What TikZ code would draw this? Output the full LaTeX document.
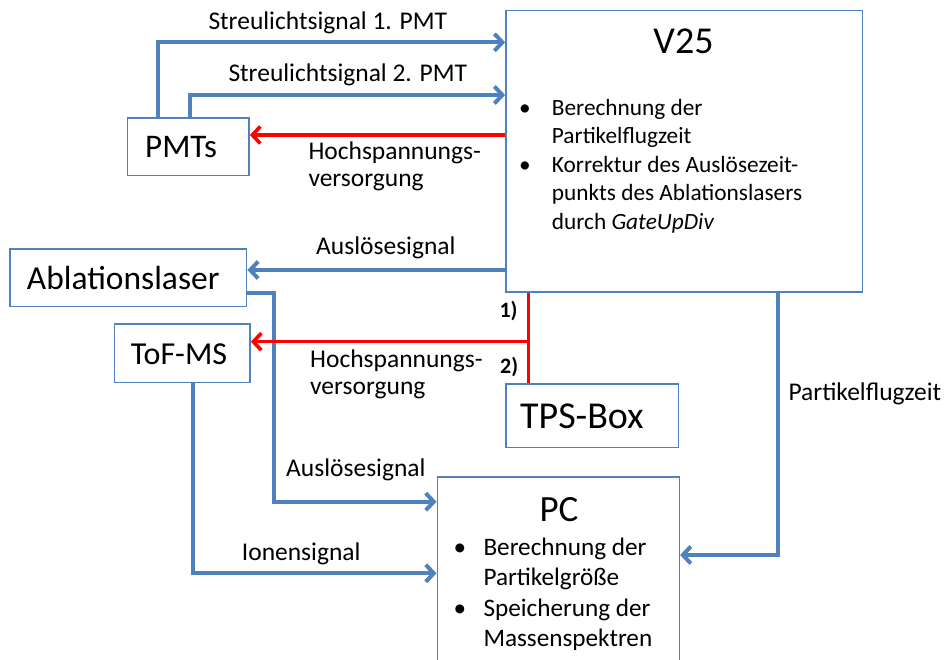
\documentclass[tikz,border=0pt]{standalone}
\usepackage{fontspec}
\setmainfont{Carlito}
\usetikzlibrary{arrows.meta,calc}
\definecolor{obl}{HTML}{4F81BD}
\definecolor{ored}{HTML}{FF0000}
\begin{document}
\begin{tikzpicture}[x=1pt,y=-1pt,
  box/.style={draw=obl,line width=1.6pt,inner sep=0pt,fill=white},
  sig/.style={draw=obl,line width=4pt,-{Straight Barb[length=8pt,width=17pt]}},
  hv/.style={draw=ored,line width=3.6pt,-{Straight Barb[length=8pt,width=17pt]}},
  hvline/.style={draw=ored,line width=3.6pt},
  lbl/.style={anchor=base west,inner sep=0pt,font=\fontsize{25.5}{28}\selectfont},
  num/.style={anchor=base west,inner sep=0pt,font=\fontsize{22}{26}\selectfont\bfseries},
  ttl/.style={anchor=base west,inner sep=0pt,font=\fontsize{33}{38}\selectfont},
  bigttl/.style={anchor=base west,inner sep=0pt,font=\fontsize{38}{44}\selectfont},
  vtxt/.style={anchor=base west,inner sep=0pt,font=\fontsize{23.3}{28}\selectfont},
  ptxt/.style={anchor=base west,inner sep=0pt,font=\fontsize{25.2}{30}\selectfont},
  vbul/.style={anchor=base,inner sep=0pt,font=\fontsize{23.3}{28}\selectfont},
  pbul/.style={anchor=base,inner sep=0pt,font=\fontsize{25.2}{30}\selectfont}]
\useasboundingbox (0,0) rectangle (946,660);
\clip (0,0) rectangle (946,660);

% boxes
\node[box,minimum width=121.7pt,minimum height=57.4pt] (pmts) at (188.2,147) {};
\node[box,minimum width=356.7pt,minimum height=281.6pt] (v25) at (684.3,151.5) {};
\node[box,minimum width=236.7pt,minimum height=57.4pt] (abl) at (128.3,278) {};
\node[box,minimum width=135.7pt,minimum height=58.4pt] (tof) at (182.2,353.5) {};
\node[box,minimum width=172.3pt,minimum height=63.3pt] (tps) at (592.2,415.7) {};
\node[box,minimum width=242pt,minimum height=230pt] (pc) at (558.3,592.3) {};

% box texts
\node[ttl] (pmtsT) at (145,157.7) {PMTs};
\node[ttl,font=\fontsize{33.5}{38}\selectfont] (ablT) at (26.7,289.3) {Ablationslaser};
\node[ttl,font=\fontsize{32}{38}\selectfont] (tofT) at (130.7,364.3) {ToF-MS};
\node[bigttl] (tpsT) at (520,428.3) {TPS-Box};
\node[bigttl,anchor=base] (v25T) at (683.5,54) {V25};
\node[bigttl,anchor=base,font=\fontsize{37}{44}\selectfont] (pcT) at (559,521) {PC};

% V25 content
\node[vbul] (vb1) at (525,116) {•};
\node[vtxt] (v1) at (551.7,116) {Berechnung der};
\node[vtxt] (v2) at (551.7,143.3) {Partikelflugzeit};
\node[vbul] (vb2) at (525,172.7) {•};
\node[vtxt] (v3) at (551.7,172.7) {Korrektur des Auslösezeit-};
\node[vtxt] (v4) at (551.7,200.5) {punkts des Ablationslasers};
\node[vtxt] (v5) at (551.7,229.3) {durch \textit{GateUpDiv}};

% PC content
\node[pbul] (pb1) at (460,555) {•};
\node[ptxt] (p1) at (483.3,555) {Berechnung der};
\node[ptxt] (p2) at (483.3,585) {Partikelgröße};
\node[pbul] (pb2) at (460,616.7) {•};
\node[ptxt] (p3) at (483.3,616.7) {Speicherung der};
\node[ptxt] (p4) at (483.3,646.7) {Massenspektren};

% connectors
\draw[sig] (pmts.north -| 158.3,0) |- (v25.west |- 0,42.3);
\draw[sig] (pmts.north -| 190,0) |- (v25.west |- 0,95);
\draw[hv] (v25.west |- 0,135) -- (pmts.east |- 0,135);
\draw[sig] (v25.west |- 0,270) -- (abl.east |- 0,270);
\draw[sig] (abl.east |- 0,293.3) -| (274.3,501.7) -- (pc.west |- 0,501.7);
\coordinate (junc) at (528.3,341.7);
\draw[hvline] (v25.south -| junc) -- (tps.north -| junc);
\draw[hv] (junc) -- (tof.east |- junc);
\draw[sig] (tof.south -| 192.7,0) |- (pc.west |- 0,573.3);
\draw[sig] (v25.south -| 777.5,0) |- (pc.east |- 0,555);

% labels
\node[lbl] (l1) at (208.3,29.3) {Streulichtsignal 1. PMT};
\node[lbl] (l2) at (228.3,81.7) {Streulichtsignal 2. PMT};
\node[lbl] (l3a) at (308.3,159.3) {Hochspannungs-};
\node[lbl] (l3b) at (308.3,186.7) {versorgung};
\node[lbl] (l4) at (316,255) {Auslösesignal};
\node[num] (n1) at (499.3,317.3) {1)};
\node[num] (n2) at (500,373.3) {2)};
\node[lbl] (l5a) at (310,367.7) {Hochspannungs-};
\node[lbl] (l5b) at (310,395) {versorgung};
\node[lbl] (l6) at (286,476.7) {Auslösesignal};
\node[lbl] (l7) at (241.7,560.7) {Ionensignal};
\node[lbl] (l8) at (788.3,400.7) {Partikelflugzeit};
\end{tikzpicture}
\end{document}
